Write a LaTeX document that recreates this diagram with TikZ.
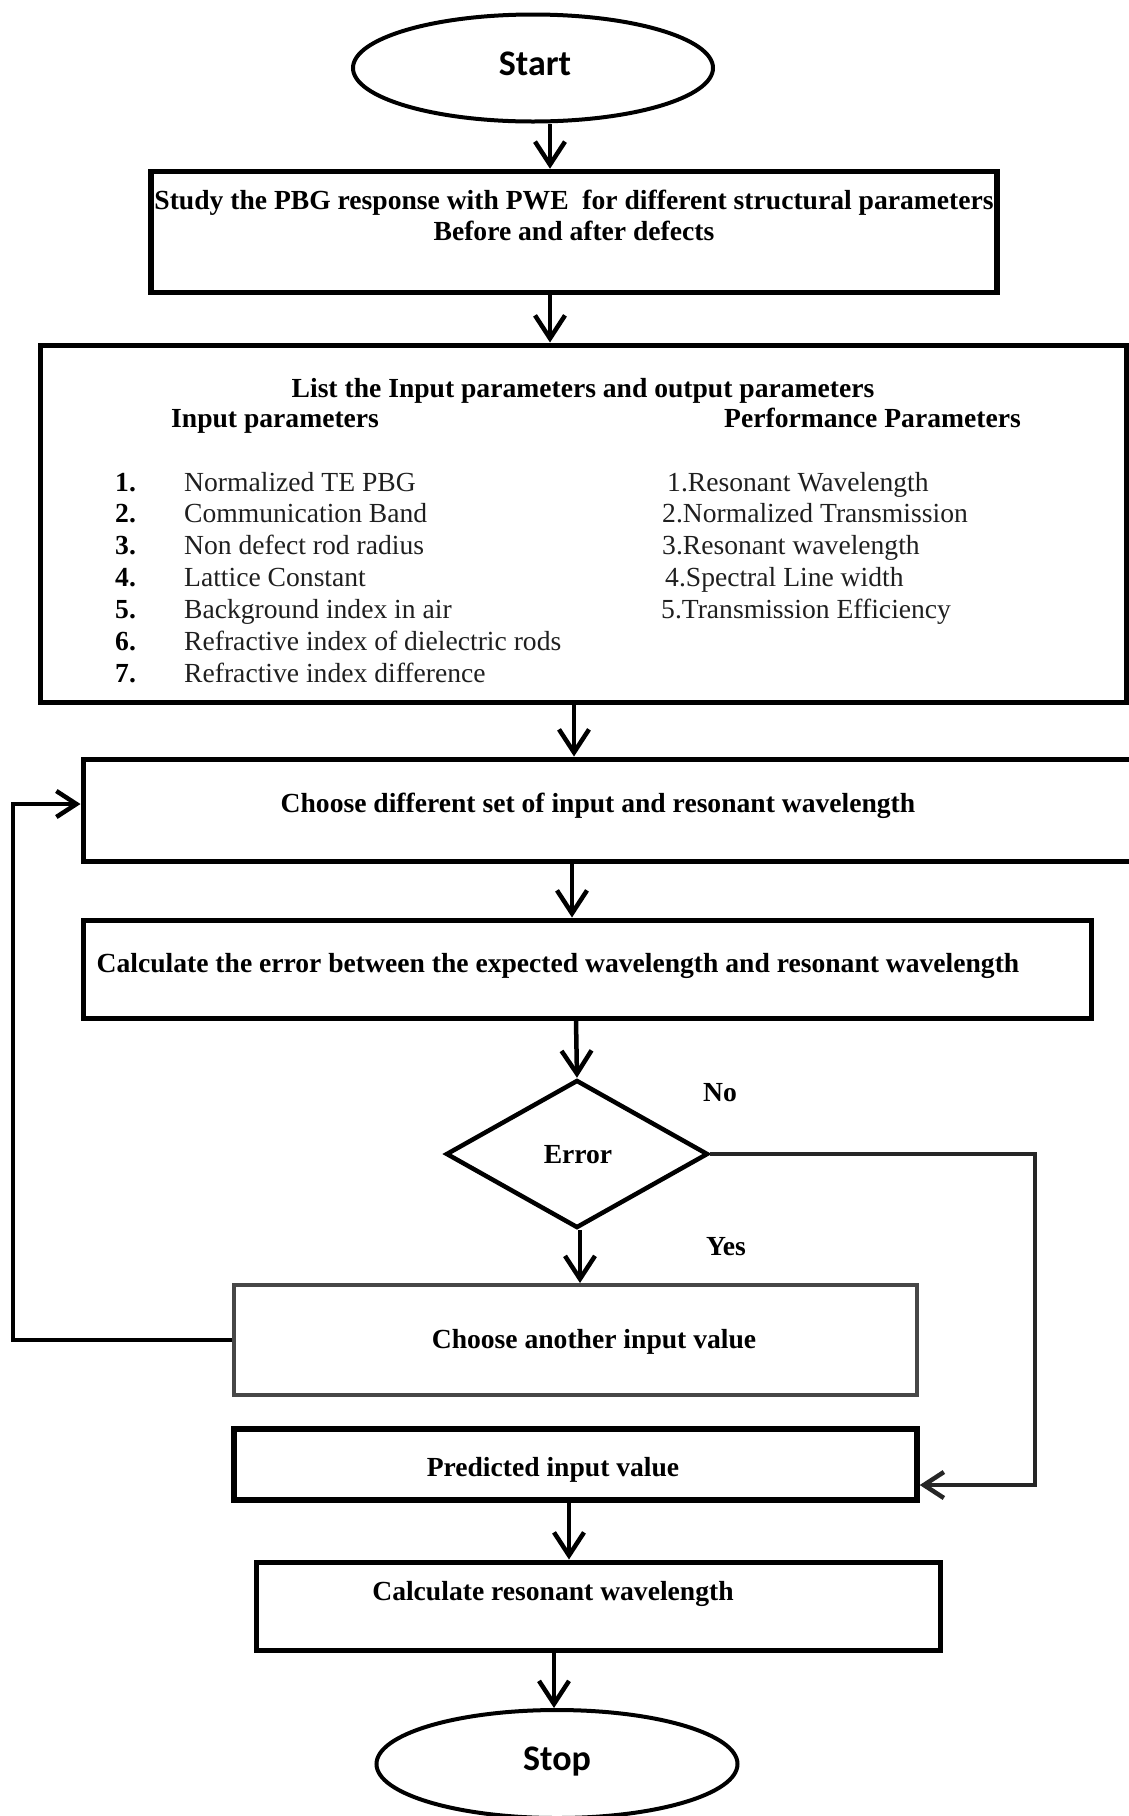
\documentclass[tikz,border=0pt]{standalone}
\usepackage{fontspec}
\setmainfont{Liberation Serif}
\newfontfamily\calfont{Carlito}
\usetikzlibrary{arrows.meta,shapes.geometric}
\begin{document}
\begin{tikzpicture}[x=1pt,y=-1pt,
  box/.style={draw, line width=5pt, inner sep=0pt},
  oval/.style={draw, ellipse, line width=4pt, inner sep=0pt},
  arr/.style={line width=4.5pt, -{Straight Barb[length=23pt,width=30pt]}},
  con/.style={line width=4.5pt},
  btxt/.style={font=\fontsize{27.6}{28}\selectfont\bfseries, inner sep=0pt},
  rtxt/.style={font=\fontsize{27.6}{28}\selectfont, inner sep=0pt, anchor=west, text height=19pt, text depth=6pt, text=black!88},
  ntxt/.style={font=\fontsize{27.6}{28}\selectfont\bfseries, inner sep=0pt, anchor=west, text height=19pt, text depth=6pt},
  otxt/.style={font=\fontsize{36}{40}\selectfont\calfont\bfseries, inner sep=0pt},
]
\useasboundingbox (0,0) rectangle (1129,1816);

% Start
\node[oval, minimum width=360pt, minimum height=107pt] (start) at (533,68) {};
\node[otxt] (starttxt) at (535,64) {Start};

% Box 1
\node[box, line width=5.5pt, minimum width=846pt, minimum height=121pt] (b1) at (574,232) {};
\node[btxt, font=\fontsize{27.6}{31}\selectfont\bfseries, align=center] (b1txt) at (574,215) {Study the PBG response with PWE\ \ for different structural parameters\\Before and after defects};

% Box 2
\node[box, minimum width=1086pt, minimum height=357pt] (b2) at (583,523.5) {};
\node[btxt] (b2title) at (583,391) {List the Input parameters and output parameters};
\node[ntxt] (inhead) at (171,421) {Input parameters};
\node[ntxt] (perfhead) at (724,421) {Performance Parameters};

\node[ntxt] (n1) at (115,485) {1.};
\node[ntxt] (n2) at (115,516) {2.};
\node[ntxt] (n3) at (115,548) {3.};
\node[ntxt] (n4) at (115,580) {4.};
\node[ntxt] (n5) at (115,612) {5.};
\node[ntxt] (n6) at (115,644) {6.};
\node[ntxt] (n7) at (115,676) {7.};
\node[rtxt] (i1) at (184,485) {Normalized TE PBG};
\node[rtxt] (i2) at (184,516) {Communication Band};
\node[rtxt] (i3) at (184,548) {Non defect rod radius};
\node[rtxt] (i4) at (184,580) {Lattice Constant};
\node[rtxt] (i5) at (184,612) {Background index in air};
\node[rtxt] (i6) at (184,644) {Refractive index of dielectric rods};
\node[rtxt] (i7) at (184,676) {Refractive index difference};

\node[rtxt] (p1) at (667,485) {1.Resonant Wavelength};
\node[rtxt] (p2) at (662,516) {2.Normalized Transmission};
\node[rtxt] (p3) at (662,548) {3.Resonant wavelength};
\node[rtxt] (p4) at (665,580) {4.Spectral Line width};
\node[rtxt] (p5) at (661,612) {5.Transmission Efficiency};

% Box 3
\node[box, minimum width=1057pt, minimum height=102pt] (b3) at (611.5,810) {};
\node[btxt] (b3txt) at (598,806) {Choose different set of input and resonant wavelength};

% Box 4
\node[box, minimum width=1008pt, minimum height=98pt] (b4) at (587,969) {};
\node[btxt] (b4txt) at (558,966) {Calculate the error between the expected wavelength and resonant wavelength};

% Decision
\node[draw, diamond, line width=4.5pt, inner sep=0pt, minimum width=262pt, minimum height=148pt] (dec) at (577,1154) {};
\node[btxt] (dectxt) at (578,1155) {Error};
\node[btxt] (no) at (720,1093) {No};
\node[btxt] (yes) at (726,1247) {Yes};

% Box 5
\node[box, line width=4pt, draw=black!72, minimum width=683pt, minimum height=110pt] (b5) at (575.5,1340) {};
\node[btxt] (b5txt) at (594,1342) {Choose another input value};

% Box 6
\node[box, line width=5.5pt, minimum width=683pt, minimum height=71pt] (b6) at (575.5,1464.5) {};
\node[btxt] (b6txt) at (553,1470) {Predicted input value};

% Box 7
\node[box, minimum width=684pt, minimum height=88pt] (b7) at (598,1606) {};
\node[btxt] (b7txt) at (553,1594) {Calculate resonant wavelength};

% Stop
\node[oval, minimum width=361pt, minimum height=108pt] (stop) at (557,1764) {};
\node[otxt] (stoptxt) at (557,1762) {Stop};

% Connectors
\draw[arr] ([xshift=17pt]start.south) -- ([xshift=17pt]start.south |- b1.north);
\draw[arr] ([xshift=-24pt]b1.south) -- ([xshift=-24pt]b1.south |- b2.north);
\draw[arr] ([xshift=-9pt]b2.south) -- ([xshift=-9pt]b2.south |- b3.north);
\draw[arr] ([xshift=-39.5pt]b3.south) -- ([xshift=-39.5pt]b3.south |- b4.north);
\draw[arr] ([xshift=-11pt]b4.south) -- (dec.north);
\draw[arr] ([xshift=3pt]dec.south) -- ([xshift=3pt]dec.south |- b5.north);
\draw[arr] ([xshift=-6.5pt]b6.south) -- ([xshift=-6.5pt]b6.south |- b7.north);
\draw[arr] ([xshift=-44pt]b7.south) -- ([xshift=-44pt]b7.south |- stop.north);

\coordinate (nocorner) at (1035,1485);
\draw[con, draw=black!85, -{Straight Barb[length=20pt,width=26pt]}] (dec.east) -| (nocorner) -- (nocorner -| b6.east);

\coordinate (fbcorner) at (13,804);
\draw[con, -{Straight Barb[length=20pt,width=26pt]}] (b5.west) -| (fbcorner) -- (fbcorner -| b3.west);
\end{tikzpicture}
\end{document}
